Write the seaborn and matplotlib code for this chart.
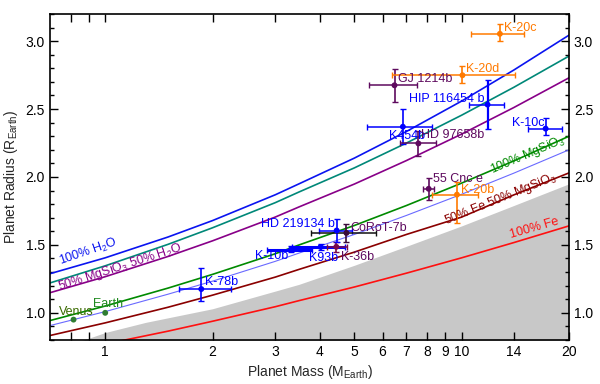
import numpy as np
import pandas as pd
import matplotlib
matplotlib.use("Agg")
import matplotlib.pyplot as plt
import seaborn as sns

# composition curves
curve_mass = [0.7, 1, 1.5, 2, 3, 3.5, 5, 7, 10, 14, 20]
r_h2o = [1.288, 1.405, 1.558, 1.679, 1.869, 1.95, 2.139, 2.335, 2.559, 2.787, 3.044]
r_teal = [1.22, 1.346, 1.504, 1.626, 1.811, 1.89, 2.067, 2.250, 2.455, 2.660, 2.89]
r_mgsio3_h2o = [1.148, 1.266, 1.415, 1.530, 1.705, 1.78, 1.948, 2.121, 2.316, 2.511, 2.73]
r_mgsio3 = [0.943, 1.050, 1.182, 1.283, 1.435, 1.50, 1.643, 1.790, 1.955, 2.118, 2.30]
r_earthlike = [0.906, 1.009, 1.137, 1.233, 1.379, 1.44, 1.577, 1.717, 1.873, 2.028, 2.20]
r_fe_mgsio3 = [0.833, 0.926, 1.041, 1.130, 1.263, 1.32, 1.447, 1.577, 1.705, 1.868, 2.03]
r_fe = [0.691, 0.770, 0.865, 0.938, 1.045, 1.09, 1.190, 1.292, 1.405, 1.517, 1.64]

# excluded region (grey)
grey_mass = [0.7, 0.87, 1, 1.3, 2, 3, 3.5, 5, 7, 10, 14, 20]
grey_top = [0.74, 0.80, 0.855, 0.93, 1.03, 1.16, 1.21, 1.35, 1.49, 1.64, 1.79, 1.95]

# planets
names = ["Venus", "Earth", "K-78b", "K-10b", "K93b", "K-36b", "HD 219134 b",
         "CoRoT-7b", "55 Cnc e", "K-20b", "K-10c", "HIP 116454 b", "K454b",
         "HD 97658b", "GJ 1214b", "K-20d", "K-20c"]
mass = [0.815, 1.0, 1.86, 3.32, 4.02, 4.45, 4.46, 4.75, 8.08, 9.7, 17.2, 11.82,
        6.84, 7.56, 6.48, 10.05, 12.8]
mass_lo = [0, 0, 0.25, 0.47, 0.68, 0.27, 0.47, 0.98, 0.31, 1.44, 1.9, 1.33,
           1.43, 0.83, 0.99, 3.67, 2.2]
mass_hi = [0, 0, 0.39, 0.49, 0.68, 0.33, 0.47, 0.99, 0.31, 1.41, 1.9, 1.33,
           1.39, 0.89, 1.02, 4.05, 2.2]
radius = [0.95, 1.0, 1.175, 1.465, 1.485, 1.486, 1.606, 1.588, 1.913, 1.87, 2.356,
          2.533, 2.37, 2.247, 2.675, 2.749, 3.054]
rad_lo = [0, 0, 0.089, 0.02, 0.019, 0.035, 0.086, 0.064, 0.08, 0.21, 0.05, 0.18,
          0.13, 0.095, 0.123, 0.06, 0.05]
rad_hi = [0, 0, 0.157, 0.03, 0.019, 0.035, 0.086, 0.064, 0.08, 0.09, 0.08, 0.18,
          0.13, 0.095, 0.118, 0.07, 0.07]

BLUE, ORANGE, PURPLE, DKGREEN = "#0000ff", "#ff7a00", "#5e0a5e", "#2e7d32"
colors = [DKGREEN, DKGREEN, BLUE, BLUE, BLUE, "#7a0a4a", BLUE, "#3a0a3a",
          PURPLE, ORANGE, BLUE, BLUE, BLUE, PURPLE, PURPLE, ORANGE, ORANGE]
label_colors = ["#3a6b00", "#1f8a1f", BLUE, BLUE, BLUE, PURPLE, BLUE, PURPLE,
                PURPLE, ORANGE, BLUE, BLUE, BLUE, PURPLE, PURPLE, ORANGE, ORANGE]
# (dx, dy) in pixels, horizontal alignment
label_pos = {
    "Venus": (3, 8, "center"), "Earth": (3, 9, "center"),
    "K-78b": (4, 7, "left"), "K-10b": (-3, -6, "right"),
    "K93b": (3, -11, "center"), "K-36b": (5, -10, "left"),
    "HD 219134 b": (-2, 7, "right"), "CoRoT-7b": (4, 5, "left"),
    "55 Cnc e": (4, 10, "left"), "K-20b": (4, 5, "left"),
    "K-10c": (-1, 6, "right"), "HIP 116454 b": (-3, 6, "right"),
    "K454b": (4, -9, "center"), "HD 97658b": (3, 8, "left"),
    "GJ 1214b": (3, 6, "left"), "K-20d": (4, 6, "left"),
    "K-20c": (4, 6, "left"),
}

sns.set_theme(style="ticks")
plt.rcParams["font.family"] = ["Liberation Sans", "DejaVu Sans"]
plt.rcParams["mathtext.fontset"] = "custom"
plt.rcParams["mathtext.rm"] = "Liberation Sans"

fig = plt.figure(figsize=(6, 3.84), dpi=100)
ax = fig.add_axes([0.0833, 0.1146, 0.8650, 0.8490])

ax.fill_between(grey_mass, 0, grey_top, color="#c8c8c8", lw=0, zorder=0)

models = ["h2o", "teal", "mix", "rock", "earth", "femix", "fe"]
curves = pd.DataFrame({
    "mass": curve_mass * len(models),
    "radius": r_h2o + r_teal + r_mgsio3_h2o + r_mgsio3 + r_earthlike + r_fe_mgsio3 + r_fe,
    "model": sum([[k] * len(curve_mass) for k in models], []),
})
palette = {"h2o": "#0a14f0", "teal": "#008878", "mix": "#880088", "rock": "#008a00",
           "earth": "#6a6aff", "femix": "#8a0000", "fe": "#ff1010"}
widths = {"earth": 0.8}
for key, sub in curves.groupby("model", sort=False):
    sns.lineplot(data=sub, x="mass", y="radius", color=palette[key],
                 lw=widths.get(key, 1.2), ax=ax, zorder=2, estimator=None, sort=False)

for i, n in enumerate(names):
    xe = [[mass_lo[i]], [mass_hi[i]]]
    ye = [[rad_lo[i]], [rad_hi[i]]]
    thick = 2.2 if n in ("K-10b", "K93b") else 1.1
    if mass_lo[i] > 0:
        ax.errorbar(mass[i], radius[i], xerr=xe, fmt="none",
                    ecolor="#111111" if n == "CoRoT-7b" else colors[i],
                    elinewidth=thick, capsize=2, capthick=1, zorder=3)
        ax.errorbar(mass[i], radius[i], yerr=ye, fmt="none", ecolor=colors[i],
                    elinewidth=1.2 if n != "HIP 116454 b" else 1.6,
                    capsize=2, capthick=1, zorder=3)
pts = pd.DataFrame({"mass": mass, "radius": radius, "name": names})
sns.scatterplot(data=pts, x="mass", y="radius", hue="name",
                palette=dict(zip(names, colors)), s=18, edgecolor="none",
                legend=False, ax=ax, zorder=4)

for i, n in enumerate(names):
    dx, dy, ha = label_pos[n]
    ax.annotate(n, (mass[i], radius[i]), xytext=(dx, dy), textcoords="offset pixels",
                ha=ha, va="center", fontsize=9, color=label_colors[i], zorder=5)

curve_labels = [
    ("100% H$_2$O", 0.896, 1.45, 19, "#0a14f0"),
    ("50% MgSiO$_3$ 50% H$_2$O", 1.10, 1.332, 18, "#880088"),
    ("100% MgSiO$_3$", 15.3, 2.165, 23, "#008a00"),
    ("50% Fe 50% MgSiO$_3$", 12.86, 1.834, 22, "#8a0000"),
    ("100% Fe", 15.94, 1.62, 16, "#ff1010"),
]
for txt, x, y, rot, c in curve_labels:
    ax.text(x, y, txt, rotation=rot, rotation_mode="anchor", ha="center",
            va="center", fontsize=9, color=c, zorder=5)

ax.set_xscale("log")
ax.set_xlim(0.7, 20)
ax.set_ylim(0.8, 3.2)
xt = [0.8, 0.9, 1, 2, 3, 4, 5, 6, 7, 8, 9, 10, 14, 20]
ax.set_xticks(xt)
ax.set_xticklabels(["" if v < 1 else str(v) for v in xt])
ax.xaxis.set_minor_locator(matplotlib.ticker.NullLocator())
ax.set_yticks([1.0, 1.5, 2.0, 2.5, 3.0])
ax.set_yticks(np.arange(0.8, 3.21, 0.1), minor=True)
ax.yaxis.set_major_formatter(matplotlib.ticker.FormatStrFormatter("%.1f"))
ax.tick_params(which="both", direction="in", top=True, right=True,
               labelright=True, labelsize=10, colors="black", width=1)
ax.tick_params(which="major", length=6)
ax.tick_params(which="minor", length=3)
for s in ax.spines.values():
    s.set_linewidth(1.2)
    s.set_color("black")
ax.set_xlabel("Planet Mass (M$_{\\rm Earth}$)", fontsize=10, labelpad=3)
ax.set_ylabel("Planet Radius (R$_{\\rm Earth}$)", fontsize=10, labelpad=4)

fig.savefig("out.png", dpi=100)
